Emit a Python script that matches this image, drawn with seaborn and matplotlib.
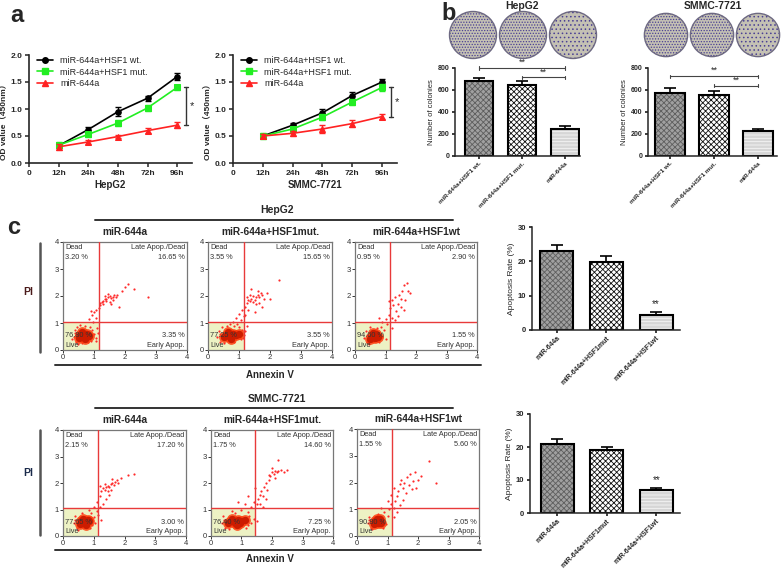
import numpy as np
import pandas as pd
import matplotlib
matplotlib.use('Agg')
import matplotlib.pyplot as plt
from matplotlib.patches import Circle
from matplotlib.lines import Line2D
import seaborn as sns

sns.set_theme(style='ticks')
plt.rcParams['font.family'] = ['Liberation Sans', 'Noto Sans CJK SC', 'DejaVu Sans']
plt.rcParams['hatch.linewidth'] = 0.6

W, H = 784, 574

# ---- panel a : OD values ----
timepoints = ['12h', '24h', '48h', '72h', '96h']
hep_wt = [0.32, 0.62, 0.95, 1.20, 1.60]
hep_wt_err = [0.03, 0.04, 0.08, 0.05, 0.06]
hep_mut = [0.33, 0.53, 0.74, 1.02, 1.40]
hep_mut_err = [0.05, 0.04, 0.06, 0.05, 0.04]
hep_mir = [0.30, 0.39, 0.49, 0.60, 0.70]
hep_mir_err = [0.06, 0.04, 0.02, 0.05, 0.06]
smmc_wt = [0.50, 0.70, 0.93, 1.25, 1.50]
smmc_wt_err = [0.04, 0.05, 0.07, 0.06, 0.05]
smmc_mut = [0.50, 0.63, 0.85, 1.13, 1.40]
smmc_mut_err = [0.05, 0.04, 0.06, 0.06, 0.06]
smmc_mir = [0.50, 0.55, 0.63, 0.73, 0.86]
smmc_mir_err = [0.04, 0.05, 0.07, 0.06, 0.05]
od_series = ['miR-644a+HSF1 wt.', 'miR-644a+HSF1 mut.', 'miR-644a']

# ---- panel b : colonies ----
colony_groups = ['miR-644a+HSF1 wt.', 'miR-644a+HSF1 mut.', 'miR-644a']
hep_colonies = [680, 645, 248]
hep_colonies_err = [30, 35, 28]
smmc_colonies = [570, 553, 225]
smmc_colonies_err = [50, 35, 25]
hep_brackets = [(0, 2, 800), (1, 2, 715)]
smmc_brackets = [(0, 2, 725), (1, 2, 640)]

# ---- panel c : flow cytometry (Annexin V, PI) ----
apop_groups = ['miR-644a', 'miR-644a+HSF1mut', 'miR-644a+HSF1wt']
flow_titles = ['miR-644a', 'miR-644a+HSF1mut.', 'miR-644a+HSF1wt']
# quadrant percentages: dead, late, early, live
hep_pcts = [(3.20, 16.65, 3.35, 76.80), (3.55, 15.65, 3.55, 77.25), (0.95, 2.90, 1.55, 94.60)]
smmc_pcts = [(2.15, 17.20, 3.00, 77.65), (1.75, 14.60, 7.25, 76.40), (1.55, 5.60, 2.05, 90.80)]
hep_gates = [1.15, 1.15, 1.15]
smmc_gates = [1.15, 1.45, 1.15]

hep1_core = [(0.55, 0.55), (0.68, 0.48), (0.78, 0.6), (0.6, 0.68), (0.72, 0.4), (0.5, 0.45), (0.85, 0.52), (0.65, 0.6)]
hep1_dots = [(0.35, 0.5), (0.4, 0.75), (0.42, 0.3), (0.45, 0.85), (0.9, 0.35), (0.95, 0.75), (1.0, 0.6), (1.05, 0.45),
             (0.3, 0.4), (0.6, 0.25), (0.7, 0.9), (0.88, 0.85), (0.98, 1.05), (1.1, 0.8), (1.12, 0.62), (1.05, 1.2),
             (0.95, 1.3), (1.0, 1.4), (1.08, 1.5), (1.15, 1.55), (1.2, 1.65), (1.25, 1.78), (1.3, 1.82), (1.35, 1.88),
             (1.4, 1.9), (1.45, 1.95), (1.5, 2.0), (1.55, 1.92), (1.6, 1.98), (1.65, 2.05), (1.7, 1.95), (1.75, 2.02),
             (1.3, 1.7), (1.4, 1.8), (1.5, 1.78), (1.6, 1.85), (1.2, 1.75), (1.45, 2.08), (1.55, 1.7), (1.35, 2.0),
             (1.9, 2.2), (2.0, 2.35), (2.1, 2.45), (2.3, 2.25), (2.75, 1.95), (1.8, 1.6), (0.85, 1.15), (0.9, 1.45),
             (0.38, 0.62), (0.48, 0.22), (0.8, 0.28), (0.92, 0.55), (0.55, 0.92), (1.08, 0.35)]
hep2_core = [(0.6, 0.55), (0.72, 0.5), (0.82, 0.6), (0.65, 0.65), (0.75, 0.42), (0.5, 0.48), (0.9, 0.55), (0.7, 0.6), (1.0, 0.6)]
hep2_dots = [(0.3, 0.5), (0.35, 0.7), (0.4, 0.3), (0.45, 0.85), (1.05, 0.4), (1.1, 0.75), (1.15, 0.55), (1.2, 0.7),
             (0.85, 0.9), (0.95, 0.95), (1.05, 1.1), (0.9, 1.2), (1.0, 1.35), (1.1, 1.5), (1.15, 1.25), (1.2, 1.6),
             (1.25, 1.75), (1.3, 1.85), (1.35, 1.8), (1.4, 1.9), (1.45, 1.78), (1.5, 1.85), (1.55, 1.95), (1.6, 2.05),
             (1.65, 1.95), (1.7, 2.1), (1.75, 2.05), (1.45, 2.0), (1.35, 2.05), (1.25, 1.95), (1.55, 1.7), (1.65, 1.75),
             (1.8, 1.9), (1.6, 2.2), (1.4, 2.25), (1.3, 1.5), (1.2, 1.3), (0.8, 1.05), (1.9, 2.1), (2.0, 1.9),
             (2.3, 2.6), (1.75, 1.6), (1.0, 0.85), (0.7, 0.95), (1.25, 0.9), (1.5, 1.4),
             (0.38, 0.6), (0.5, 0.25), (0.85, 0.3), (1.12, 0.45), (0.6, 0.88)]
hep3_core = [(0.55, 0.5), (0.65, 0.45), (0.7, 0.58), (0.6, 0.62), (0.5, 0.4), (0.75, 0.48)]
hep3_dots = [(0.3, 0.45), (0.35, 0.7), (0.4, 0.3), (0.9, 0.5), (0.95, 0.75), (1.0, 0.4), (0.85, 0.85), (0.5, 0.85),
             (0.9, 1.05), (1.0, 1.15), (0.8, 1.2), (1.1, 1.3), (1.2, 1.2), (1.15, 1.55), (1.1, 1.8), (1.2, 1.85),
             (1.3, 1.95), (1.25, 1.65), (1.35, 1.45), (1.4, 1.25), (1.45, 2.05), (1.5, 1.9), (1.55, 2.2), (1.6, 2.4),
             (1.7, 2.5), (1.75, 2.2), (1.65, 1.85), (1.5, 1.6), (1.8, 2.1), (1.3, 1.1), (1.2, 0.8), (1.05, 0.95),
             (1.4, 1.7), (1.6, 1.5), (0.38, 0.55), (0.45, 0.22), (0.8, 0.3), (0.72, 0.8)]
smmc1_core = [(0.6, 0.55), (0.72, 0.5), (0.8, 0.62), (0.65, 0.66), (0.75, 0.42), (0.55, 0.45), (0.85, 0.55), (0.68, 0.58)]
smmc1_dots = [(0.35, 0.5), (0.4, 0.75), (0.45, 0.3), (0.95, 0.4), (1.0, 0.7), (1.05, 0.5), (0.9, 0.85), (1.1, 0.95),
              (1.15, 0.8), (1.2, 1.1), (1.1, 1.3), (1.2, 1.5), (1.25, 1.7), (1.3, 1.8), (1.35, 1.75), (1.4, 1.85),
              (1.45, 1.9), (1.5, 1.85), (1.55, 1.95), (1.6, 2.0), (1.65, 1.92), (1.7, 2.05), (1.75, 2.1), (1.55, 1.75),
              (1.45, 1.7), (1.35, 1.95), (1.6, 2.15), (1.8, 2.0), (1.9, 2.2), (2.1, 2.3), (2.3, 2.35), (1.5, 1.55),
              (1.4, 1.4), (1.3, 1.2), (1.2, 1.9), (1.0, 1.1), (0.85, 1.0), (1.25, 0.6),
              (0.4, 0.6), (0.5, 0.22), (0.88, 0.3), (0.62, 0.88)]
smmc2_core = [(0.65, 0.55), (0.78, 0.5), (0.9, 0.62), (0.7, 0.66), (0.85, 0.42), (0.55, 0.5), (1.0, 0.55), (1.1, 0.6), (0.95, 0.48)]
smmc2_dots = [(0.35, 0.5), (0.4, 0.75), (0.45, 0.3), (1.2, 0.4), (1.25, 0.75), (1.3, 0.5), (1.4, 0.65), (1.5, 0.55),
              (1.2, 0.9), (1.0, 1.0), (1.1, 1.2), (1.3, 1.1), (1.4, 1.3), (1.5, 1.2), (1.55, 1.4), (1.6, 1.55),
              (1.65, 1.7), (1.7, 1.5), (1.75, 1.85), (1.8, 2.0), (1.85, 1.75), (1.9, 2.1), (1.95, 2.25), (2.0, 2.4),
              (2.05, 2.35), (2.1, 2.45), (2.15, 2.4), (2.2, 2.45), (2.3, 2.5), (2.4, 2.42), (2.0, 2.55), (1.9, 2.3),
              (2.1, 2.2), (2.2, 2.85), (1.6, 1.2), (1.7, 1.1), (1.45, 1.8), (1.2, 1.5), (0.9, 1.3), (1.8, 1.4),
              (2.5, 2.5), (0.7, 0.95), (0.42, 0.62), (0.6, 0.25), (1.15, 0.3), (0.8, 0.88)]
smmc3_core = [(0.6, 0.55), (0.7, 0.5), (0.75, 0.62), (0.65, 0.64), (0.55, 0.45), (0.8, 0.5)]
smmc3_dots = [(0.35, 0.5), (0.4, 0.7), (0.45, 0.3), (0.95, 0.45), (1.0, 0.75), (0.9, 0.9), (1.05, 1.0), (1.1, 1.2),
              (1.2, 1.05), (1.25, 1.3), (1.3, 1.5), (1.35, 1.7), (1.4, 1.95), (1.45, 2.1), (1.5, 1.8), (1.55, 2.0),
              (1.6, 1.6), (1.65, 2.2), (1.7, 1.9), (1.75, 2.3), (1.8, 1.75), (1.85, 2.05), (1.9, 2.4), (2.0, 2.1),
              (2.1, 2.25), (2.35, 2.8), (2.6, 2.0), (1.2, 1.8), (1.1, 1.55), (1.0, 1.3), (1.5, 1.35), (1.3, 0.9),
              (1.2, 0.7), (0.8, 1.05), (1.4, 1.15), (1.95, 1.8), (0.4, 0.58), (0.5, 0.25), (0.85, 0.3), (0.7, 0.82)]

hep_apop = [23.0, 19.8, 4.4]
hep_apop_err = [1.7, 1.7, 0.8]
smmc_apop = [21.0, 19.0, 7.0]
smmc_apop_err = [1.5, 1.0, 0.6]

bar_faces = ['#a0a0a0', '#ffffff', '#d6d6d6']
bar_hatches = ['xxxxxx', 'xxxxxx', '-----']
bar_hatch_cols = ['#5e5e5e', '#111111', '#f6f6f6']


def rect(x0, y0, x1, y1):
    return [x0 / W, 1 - y1 / H, (x1 - x0) / W, (y1 - y0) / H]


def bold_ticks(ax):
    for t in ax.get_xticklabels() + ax.get_yticklabels():
        t.set_fontweight('bold')


fig = plt.figure(figsize=(W / 100, H / 100), dpi=100)


def od_panel(box, series, cell):
    ax = fig.add_axes(rect(*box))
    xs = np.arange(1, 6)
    handles = []
    for (vals, errs), col, mk, lab in zip(series, ['black', '#22ee22', '#ff2222'], ['o', 's', '^'], od_series):
        sns.lineplot(x=xs, y=vals, color=col, marker=mk, markersize=4, markeredgecolor=col,
                     linewidth=1.2, ax=ax)
        ax.errorbar(xs, vals, yerr=errs, fmt='none', ecolor=col, elinewidth=1, capsize=2.5, capthick=1)
        handles.append(Line2D([], [], color=col, marker=mk, markersize=4, lw=1.2, label=lab))
    ax.legend(handles=handles, loc='upper left', frameon=False, fontsize=6.5, handlelength=1.8,
              labelspacing=0.25, borderaxespad=0.1, bbox_to_anchor=(0.02, 1.03))
    # significance bracket between mut and miR-644a at 96h
    top, bot = series[1][0][-1], series[2][0][-1]
    ax.plot([5.3, 5.3], [bot, top], color='#333', lw=1, clip_on=False)
    ax.plot([5.22, 5.38], [top, top], color='#333', lw=1, clip_on=False)
    ax.plot([5.22, 5.38], [bot, bot], color='#333', lw=1, clip_on=False)
    ax.text(5.5, (top + bot) / 2, '*', fontsize=8, ha='center', va='center')
    ax.set_xlim(0, 5.5)
    ax.set_ylim(0, 2.0)
    ax.set_xticks(range(6))
    ax.set_xticklabels(['0'] + timepoints)
    ax.set_yticks([0, 0.5, 1.0, 1.5, 2.0])
    ax.set_yticklabels(['0.0', '0.5', '1.0', '1.5', '2.0'])
    ax.tick_params(labelsize=6, length=3, width=1.1, pad=2)
    bold_ticks(ax)
    ax.set_ylabel('OD value（450nm）', fontsize=6, fontweight='bold')
    ax.yaxis.set_label_coords(-0.135, 0.4)
    ax.set_xlabel(cell, fontsize=7, fontweight='bold', labelpad=2)
    sns.despine(ax=ax)
    for s in ['left', 'bottom']:
        ax.spines[s].set_linewidth(1.2)
    return ax


od_panel((29, 55, 192, 163), [(hep_wt, hep_wt_err), (hep_mut, hep_mut_err), (hep_mir, hep_mir_err)], 'HepG2')
od_panel((233, 55, 397, 163), [(smmc_wt, smmc_wt_err), (smmc_mut, smmc_mut_err), (smmc_mir, smmc_mir_err)], 'SMMC-7721')


def pattern_bars(ax, groups, vals, errs, width):
    df = pd.DataFrame({'group': groups, 'value': vals})
    sns.barplot(data=df, x='group', y='value', hue='group', palette=bar_faces, saturation=1,
                width=width, legend=False, linewidth=0, ax=ax)
    for p, h, hc in zip(ax.patches, bar_hatches, bar_hatch_cols):
        p.set_hatch(h)
        p.set_edgecolor(hc)
        p.set_linewidth(0)
    sns.barplot(data=df, x='group', y='value', fill=False, color='black', width=width,
                linewidth=1.5, ax=ax)
    ax.errorbar(range(3), vals, yerr=[[0, 0, 0], errs], fmt='none', ecolor='black',
                elinewidth=1.2, capsize=4, capthick=1.2)
    ax.set_xlabel('')
    sns.despine(ax=ax)
    for s in ['left', 'bottom']:
        ax.spines[s].set_linewidth(1.1)


def colony_panel(box, vals, errs, brackets, xlim):
    ax = fig.add_axes(rect(*box))
    pattern_bars(ax, colony_groups, vals, errs, 0.67)
    for i, j, y in brackets:
        ax.plot([i, j], [y, y], color='#444', lw=0.8, clip_on=False)
        ax.plot([i, i], [y - 15, y + 15], color='#444', lw=0.8, clip_on=False)
        ax.plot([j, j], [y - 15, y + 15], color='#444', lw=0.8, clip_on=False)
        ax.text((i + j) / 2, y + 10, '**', fontsize=6.5, ha='center', va='bottom')
    ax.set_xlim(*xlim)
    ax.set_ylim(0, 800)
    ax.set_yticks([0, 200, 400, 600, 800])
    ax.tick_params(axis='y', labelsize=5, length=2.5, pad=1.5)
    ax.tick_params(axis='x', labelsize=4.5, length=2.5, pad=1)
    ax.set_xticks(range(3))
    ax.set_xticklabels(colony_groups, rotation=45, ha='right', rotation_mode='anchor')
    bold_ticks(ax)
    ax.set_ylabel('Number of colonies', fontsize=5.5, labelpad=2)


colony_panel((455, 68, 580, 156), hep_colonies, hep_colonies_err, hep_brackets, (-0.56, 2.35))
colony_panel((648, 68, 777, 156), smmc_colonies, smmc_colonies_err, smmc_brackets, (-0.5, 2.43))


def dishes(box, counts):
    ax = fig.add_axes(rect(*box))
    for i, n in enumerate(counts):
        hatch = '......' if n > 400 else '....'
        ax.add_patch(Circle((i, 0), 0.47, facecolor='#c4c1b4', edgecolor='#4a3f94', hatch=hatch, lw=0))
        ax.add_patch(Circle((i, 0), 0.47, facecolor='none', edgecolor='#6d6982', lw=1.0))
    ax.set_xlim(-0.5, 2.5)
    ax.set_ylim(-0.5, 0.5)
    ax.set_aspect('equal')
    ax.axis('off')


dishes((448, 10, 598, 60), hep_colonies)
dishes((642, 12, 782, 58), smmc_colonies)
fig.text(522 / W, 1 - 6 / H, 'HepG2', fontsize=7.5, fontweight='bold', ha='center', va='center')
fig.text(713 / W, 1 - 6 / H, 'SMMC-7721', fontsize=7.5, fontweight='bold', ha='center', va='center')


def flow_panel(box, core, dots, gate, pcts, title):
    ax = fig.add_axes(rect(*box))
    ax.fill_between([0, gate], 0, 1.05, color='#edf2c4', zorder=0, lw=0)
    core = np.array(core)
    dots = np.array(dots)
    sns.scatterplot(x=dots[:, 0], y=dots[:, 1], s=2.5, color='#ff2a2a', linewidth=0, ax=ax, zorder=2)
    sns.scatterplot(x=core[:, 0], y=core[:, 1], s=60, color='#ff4010', linewidth=0, alpha=0.85, ax=ax, zorder=2)
    sns.scatterplot(x=core[:, 0], y=core[:, 1], s=28, color='#cc1c00', linewidth=0, ax=ax, zorder=3)
    ax.axvline(gate, color='#e83a3a', lw=1, zorder=4)
    ax.axhline(1.05, color='#e83a3a', lw=1, zorder=4)
    dead, late, early, live = pcts
    kw = dict(fontsize=5.3, color='#333333', zorder=5)
    ax.text(0.08, 3.78, 'Dead', ha='left', va='center', **kw)
    ax.text(0.08, 3.42, '%.2f %%' % dead, ha='left', va='center', **kw)
    ax.text(3.93, 3.78, 'Late Apop./Dead', ha='right', va='center', **kw)
    ax.text(3.93, 3.42, '%.2f %%' % late, ha='right', va='center', **kw)
    ax.text(3.93, 0.52, '%.2f %%' % early, ha='right', va='center', **kw)
    ax.text(3.93, 0.18, 'Early Apop.', ha='right', va='center', **kw)
    ax.text(0.08, 0.52, '%.2f %%' % live, ha='left', va='center', **kw)
    ax.text(0.08, 0.18, 'Live', ha='left', va='center', **kw)
    ax.set_xlim(0, 4)
    ax.set_ylim(0, 4)
    ax.set_xticks(range(5))
    ax.set_yticks(range(5))
    ax.tick_params(labelsize=5.5, length=2, width=0.7, pad=1, colors='#333333')
    for s in ax.spines.values():
        s.set_color('#777777')
        s.set_linewidth(0.9)
    ax.set_title(title, fontsize=7.3, fontweight='bold', pad=5)


hep_boxes = [(63, 242, 187, 350), (208, 242, 332, 350), (355, 242, 477, 350)]
smmc_boxes = [(63, 430, 186, 536), (211, 430, 333, 536), (357, 429, 479, 536)]
for box, core, dots, gate, pcts, title in zip(hep_boxes, [hep1_core, hep2_core, hep3_core],
                                             [hep1_dots, hep2_dots, hep3_dots], hep_gates, hep_pcts, flow_titles):
    flow_panel(box, core, dots, gate, pcts, title)
for box, core, dots, gate, pcts, title in zip(smmc_boxes, [smmc1_core, smmc2_core, smmc3_core],
                                             [smmc1_dots, smmc2_dots, smmc3_dots], smmc_gates, smmc_pcts, flow_titles):
    flow_panel(box, core, dots, gate, pcts, title)


def flow_frame(title, title_y, line_y, top, bottom, axis_line_y, axis_label_y, pi_y, pi_col):
    fig.text(277 / W, 1 - title_y / H, title, fontsize=7.5, fontweight='bold', ha='center', va='center')
    fig.add_artist(Line2D([95 / W, 453 / W], [1 - line_y / H] * 2, color='#333333', lw=1.4))
    fig.add_artist(Line2D([55 / W, 481 / W], [1 - axis_line_y / H] * 2, color='#333333', lw=1.4))
    fig.text(270 / W, 1 - axis_label_y / H, 'Annexin V', fontsize=7, fontweight='bold', ha='center', va='center')
    fig.add_artist(Line2D([40 / W, 40 / W], [1 - top / H, 1 - bottom / H], color='#555555', lw=1.8))
    fig.text(28 / W, 1 - pi_y / H, 'PI', fontsize=7.5, fontweight='bold', ha='center', va='center', color=pi_col)


flow_frame('HepG2', 210, 220, 243, 352, 365, 375, 292, '#4a1a1a')
flow_frame('SMMC-7721', 399, 408, 430, 535, 550, 559, 473, '#1a2a4a')


def apop_panel(box, vals, errs, xlim):
    ax = fig.add_axes(rect(*box))
    pattern_bars(ax, apop_groups, vals, errs, 0.67)
    ax.text(2, vals[2] + errs[2] + 1.0, '**', fontsize=7, ha='center', va='bottom')
    ax.set_xlim(*xlim)
    ax.set_ylim(0, 30)
    ax.set_yticks([0, 10, 20, 30])
    ax.tick_params(axis='y', labelsize=5.5, length=2.5, pad=1.5)
    ax.tick_params(axis='x', labelsize=5, length=2.5, pad=1)
    ax.set_xticks(range(3))
    ax.set_xticklabels(apop_groups, rotation=45, ha='right', rotation_mode='anchor')
    bold_ticks(ax)
    ax.set_ylabel('Apoptosis Rate (%)', fontsize=6, labelpad=2)


apop_panel((532, 227, 680, 330), hep_apop, hep_apop_err, (-0.5, 2.48))
apop_panel((530, 414, 680, 513), smmc_apop, smmc_apop_err, (-0.55, 2.48))

for lab, x, y in [('a', 17, 16), ('b', 449, 14), ('c', 14, 227)]:
    fig.text(x / W, 1 - y / H, lab, fontsize=17, fontweight='bold', ha='center', va='center')

fig.savefig('out.png', dpi=100)
